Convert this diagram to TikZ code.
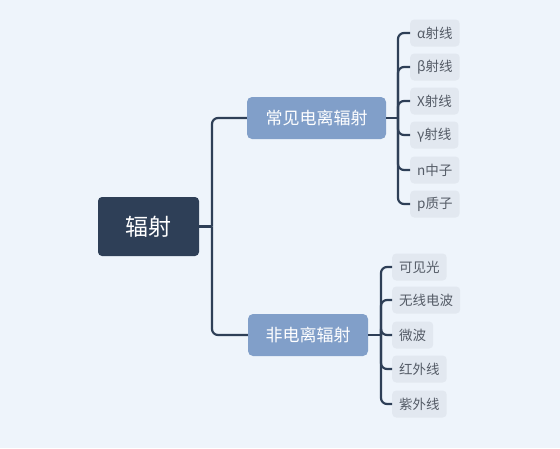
\documentclass[tikz,border=0pt]{standalone}
\usepackage{fontspec}
\setmainfont{Noto Sans CJK SC}
\usepackage{xcolor}
\usetikzlibrary{positioning}

\definecolor{bgcol}{HTML}{EEF4FB}
\definecolor{rootcol}{HTML}{2E3F57}
\definecolor{branchcol}{HTML}{819FC9}
\definecolor{leafcol}{HTML}{E2E8F0}
\definecolor{leaftext}{HTML}{545B66}

\begin{document}
\begin{tikzpicture}[x=1pt, y=-1pt,
    rootbox/.style={fill=rootcol, text=white, rounded corners=4pt, minimum width=101pt, minimum height=59pt, font=\fontsize{23}{27}\selectfont},
    branchbox/.style={fill=branchcol, text=white, rounded corners=5pt, minimum height=42pt, inner xsep=9pt, font=\fontsize{17}{20}\selectfont},
    leafbox/.style={fill=leafcol, text=leaftext, rounded corners=4pt, minimum height=27pt, inner xsep=7pt, anchor=west, font=\fontsize{13.5}{16}\selectfont},
    link/.style={draw=rootcol, line width=2.2pt, rounded corners=6pt}]

    \fill[bgcol] (0,0) rectangle (560,448);
    \useasboundingbox (0,0) rectangle (560,448);

    % main nodes
    \node[rootbox] (root) at (148.5,226.5) {辐射};
    \node[branchbox, minimum width=139pt] (ion) at (316.5,118) {常见电离辐射};
    \node[branchbox, minimum width=120pt] (nonion) at (308,335) {非电离辐射};

    % junctions
    \coordinate (j0) at (212,226.5);
    \coordinate (j1) at (398,118);
    \coordinate (j2) at (381,335);

    \draw[link] (root.east) -- (j0);
    \draw[link] (j0) |- (ion.west);
    \draw[link] (j0) |- (nonion.west);
    \draw[link] (ion.east) -- (j1);
    \draw[link] (nonion.east) -- (j2);

    % ionising leaves
    \node[leafbox] (alpha) at (410,33) {α射线};
    \node[leafbox] (beta) at (410,67) {β射线};
    \node[leafbox] (xray) at (410,101) {X射线};
    \node[leafbox] (gamma) at (410,135) {γ射线};
    \node[leafbox] (neutron) at (410,170) {n中子};
    \node[leafbox] (proton) at (410,204) {p质子};
    \foreach \n in {alpha, beta, xray, gamma, neutron, proton}
        \draw[link] (j1) |- (\n.west);

    % non-ionising leaves
    \node[leafbox] (light) at (392,267) {可见光};
    \node[leafbox] (radio) at (392,300) {无线电波};
    \node[leafbox] (micro) at (392,335) {微波};
    \node[leafbox] (infra) at (392,369) {红外线};
    \node[leafbox] (ultra) at (392,404) {紫外线};
    \foreach \n in {light, radio, micro, infra, ultra}
        \draw[link] (j2) |- (\n.west);
\end{tikzpicture}
\end{document}
